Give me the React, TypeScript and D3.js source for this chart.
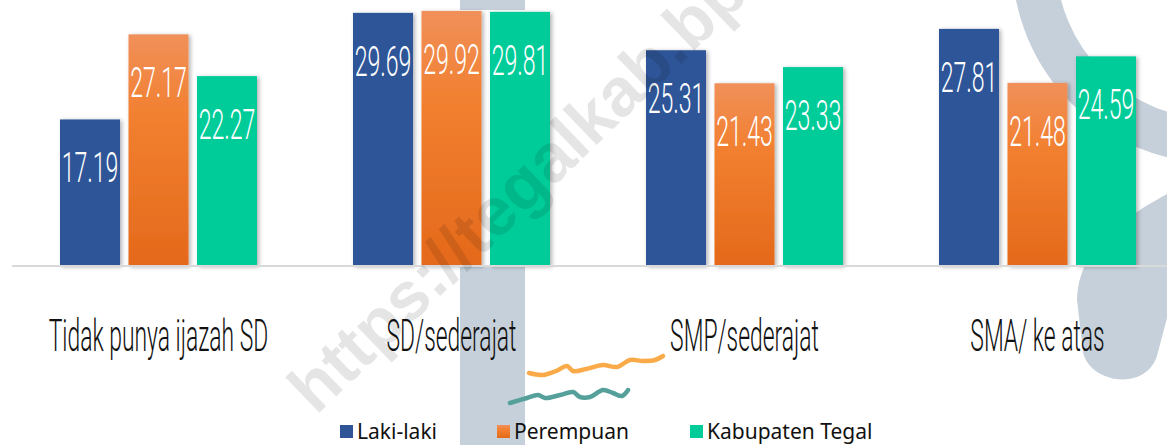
import * as d3 from 'd3';

const categories = ['Tidak punya ijazah SD', 'SD/sederajat', 'SMP/sederajat', 'SMA/ ke atas'];
const seriesNames = ['Laki-laki', 'Perempuan', 'Kabupaten Tegal'];
const lakiLaki = [17.19, 29.69, 25.31, 27.81];
const perempuan = [27.17, 29.92, 21.43, 21.48];
const kabupaten = [22.27, 29.81, 23.33, 24.59];

const seriesValues = [lakiLaki, perempuan, kabupaten];
const seriesFill = ['#2f5597', 'url(#orangeGrad)', '#00cc99'];

// decorative squiggles under the labels
const orangeWave: [number, number][] = [
  [529, 373], [543, 375], [556, 371], [567, 366], [573, 371], [586, 369], [603, 365],
  [617, 367], [630, 360], [643, 361], [655, 360], [663, 356],
];
const tealWave: [number, number][] = [
  [510, 403], [527, 398], [538, 395], [545, 398], [560, 395], [573, 392], [580, 397],
  [590, 397], [603, 390], [613, 393], [622, 396], [628, 390],
];

const W = 1167;
const H = 445;

export default function App() {
  const baseY = 266;
  const x0 = d3.scaleBand<string>().domain(categories).range([12, 1184]);
  const x1 = d3.scaleBand<string>().domain(seriesNames).range([48, 245]).paddingInner(0.124);
  const y = d3.scaleLinear().domain([0, 31.2]).range([baseY, 0]);
  const wave = d3.line().curve(d3.curveCatmullRom.alpha(0.5));

  const arcR = 181;
  const ring = d3.arc()({
    innerRadius: arcR - 22,
    outerRadius: arcR + 22,
    startAngle: -Math.PI,
    endAngle: Math.PI,
  } as any);

  return (
    <svg
      width={W}
      height={H}
      style={{ position: 'absolute', left: 0, top: 0, display: 'block', background: '#fff' }}
    >
      <defs>
        <linearGradient id="orangeGrad" x1="0" y1="0" x2="0" y2="1">
          <stop offset="0%" stopColor="#f0905a" />
          <stop offset="35%" stopColor="#f28030" />
          <stop offset="100%" stopColor="#e4691b" />
        </linearGradient>
        <filter id="shadow" x="-20%" y="-10%" width="140%" height="120%">
          <feDropShadow dx="2" dy="1" stdDeviation="2" floodColor="#000" floodOpacity="0.3" />
        </filter>
      </defs>

      {/* background decoration */}
      <rect x={460} y={0} width={65} height={H} fill="#c6d0da" />
      <path d={ring!} transform="translate(1215,-40)" fill="#c6d0da" />
      <path
        d="M1167,194 C1110,225 1078,255 1077,300 L1083,352 C1090,385 1150,392 1158,352 L1167,318 Z"
        fill="#c6d0da"
      />
      <rect x={12} y={10} width={995} height={baseY - 10} fill="#fff" />

      {/* bars */}
      {categories.map((c, i) => (
        <g key={c} transform={`translate(${x0(c)},0)`}>
          {seriesNames.map((s, k) => {
            const v = seriesValues[k][i];
            const bx = x1(s)!;
            const top = y(v);
            return (
              <g key={s}>
                <rect
                  x={bx}
                  y={top}
                  width={x1.bandwidth()}
                  height={baseY - top}
                  fill={seriesFill[k]}
                  filter="url(#shadow)"
                />
                <text
                  transform={`translate(${bx + x1.bandwidth() / 2},${top + 63}) scale(0.55,1)`}
                  textAnchor="middle"
                  fill="#fff"
                  fontFamily="Roboto, sans-serif"
                  fontWeight={300}
                  fontSize={42}
                >
                  {v.toFixed(2)}
                </text>
              </g>
            );
          })}
        </g>
      ))}

      <line x1={12} x2={W} y1={baseY} y2={baseY} stroke="#d9d9d9" strokeWidth={2} />

      {/* category labels */}
      {categories.map((c) => (
        <text
          key={c}
          transform={`translate(${x0(c)! + x0.bandwidth() / 2},351) scale(0.52,1)`}
          textAnchor="middle"
          fill="#111"
          fontFamily="Roboto, sans-serif"
          fontWeight={300}
          fontSize={44}
        >
          {c}
        </text>
      ))}

      <path d={wave(orangeWave)!} fill="none" stroke="#fbaa4a" strokeWidth={4.5} strokeLinecap="round" />
      <path d={wave(tealWave)!} fill="none" stroke="#55a09a" strokeWidth={4.5} strokeLinecap="round" />

      {/* legend */}
      {seriesNames.map((s, k) => {
        const lx = [340, 497, 690][k];
        return (
          <g key={s}>
            <rect x={lx} y={425} width={13} height={13} fill={seriesFill[k]} />
            <text
              x={lx + 17}
              y={439}
              fontFamily="'Noto Sans', sans-serif"
              fontSize={21}
              fill="#111"
            >
              {s}
            </text>
          </g>
        );
      })}

      {/* watermark */}
      <text
        transform="translate(316,416) rotate(-44)"
        fontFamily="'Liberation Sans', Arial, sans-serif"
        fontWeight="bold"
        fontSize={68}
        fill="rgba(0,0,0,0.1)"
      >
        https://tegalkab.bp
      </text>
    </svg>
  );
}
